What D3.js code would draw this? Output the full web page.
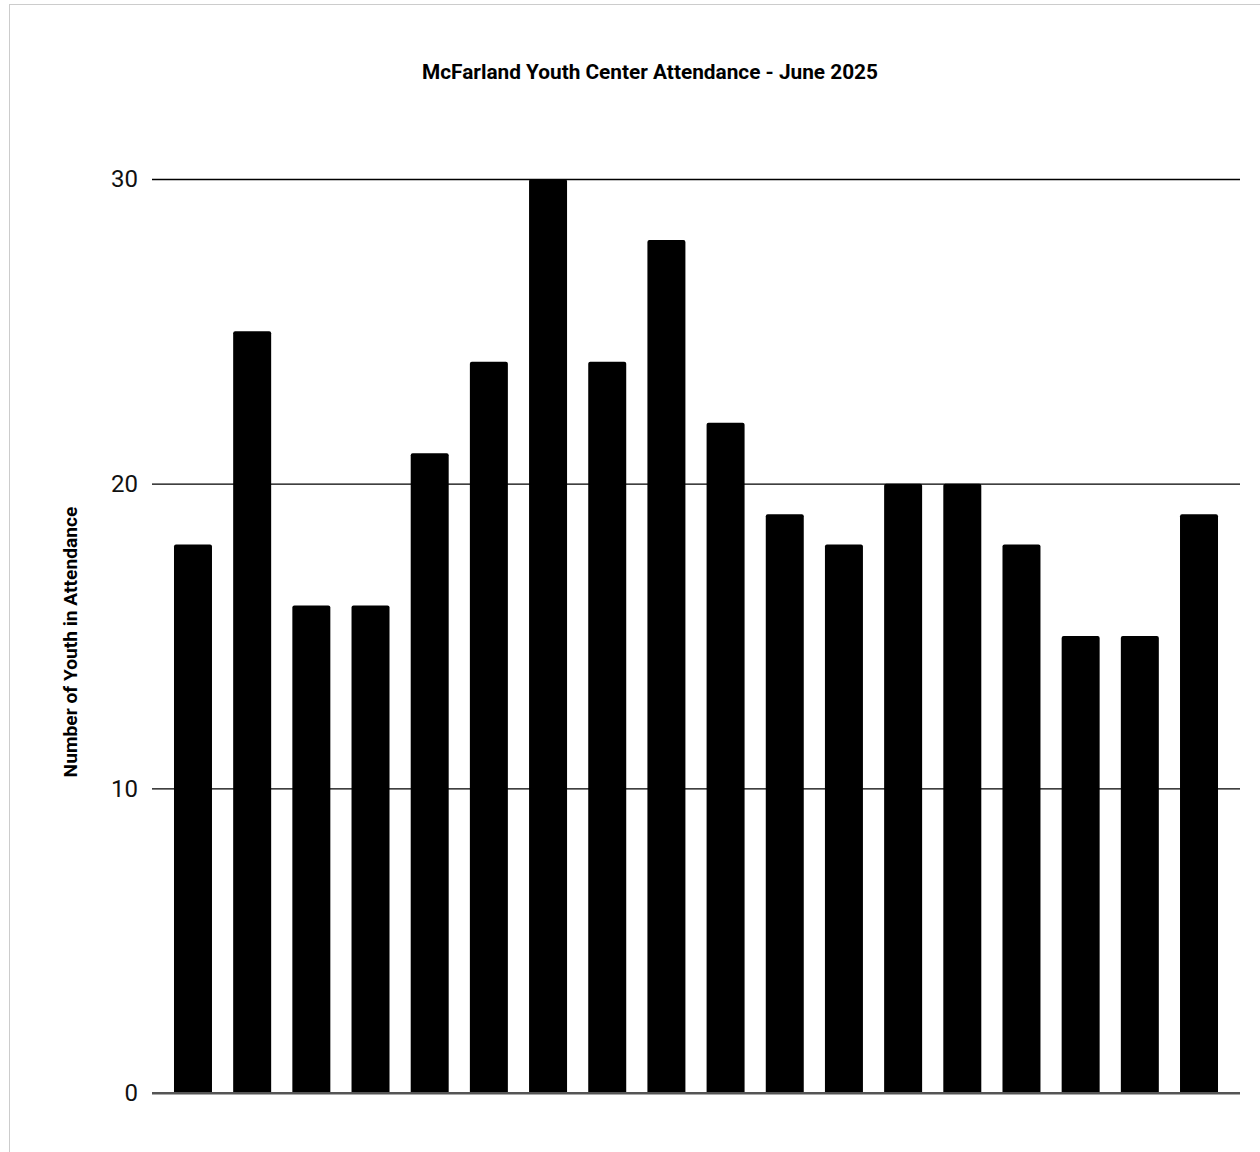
<!DOCTYPE html>
<html>
<head>
<meta charset="utf-8">
<script src="https://cdn.jsdelivr.net/npm/d3@7"></script>
<style>
  html, body { margin: 0; padding: 0; background: #fff; }
  svg { display: block; font-family: Roboto, "Noto Sans", Arial, sans-serif; }
</style>
</head>
<body>
<svg id="chart" width="1260" height="1152"></svg>
<script>
// Daily program sessions in June 2025 (one bar per open day)
const sessions = ["Jun 2", "Jun 3", "Jun 4", "Jun 5", "Jun 6", "Jun 9", "Jun 10", "Jun 11", "Jun 12",
                  "Jun 13", "Jun 16", "Jun 17", "Jun 18", "Jun 20", "Jun 23", "Jun 24", "Jun 25", "Jun 26"];
const attendance = [18, 25, 16, 16, 21, 24, 30, 24, 28, 22, 19, 18, 20, 20, 18, 15, 15, 19];
const yTicks = [0, 10, 20, 30];

const titleText = "McFarland Youth Center Attendance - June 2025";
const yAxisTitle = "Number of Youth in Attendance";

const svg = d3.select("#chart");

// outer frame
svg.append("rect")
  .attr("x", 9.5).attr("y", 4.5)
  .attr("width", 1260).attr("height", 1160)
  .attr("fill", "none").attr("stroke", "#cccccc").attr("stroke-width", 1);

const plot = { left: 152, right: 1240, top: 179, bottom: 1093 };

const x = d3.scaleBand()
  .domain(sessions)
  .range([163.4, 1228.6])
  .paddingInner(0.358)
  .paddingOuter(0.179);

const y = d3.scaleLinear()
  .domain([0, 30])
  .range([plot.bottom, plot.top]);

// title
svg.append("text")
  .attr("x", 650).attr("y", 79)
  .attr("text-anchor", "middle")
  .attr("font-size", 20.8).attr("font-weight", "bold").attr("fill", "#000")
  .text(titleText);

// y axis title
svg.append("text")
  .attr("transform", `translate(77,${642}) rotate(-90)`)
  .attr("text-anchor", "middle")
  .attr("font-size", 19.2).attr("font-weight", "bold").attr("fill", "#000")
  .text(yAxisTitle);

// gridlines + tick labels via d3 axis
const yAxis = d3.axisLeft(y)
  .tickValues(yTicks)
  .tickSize(-(plot.right - plot.left))
  .tickPadding(14)
  .tickFormat(d3.format("d"));

const gAxis = svg.append("g")
  .attr("transform", `translate(${plot.left},0)`)
  .call(yAxis);

gAxis.select(".domain").remove();
gAxis.selectAll(".tick line")
  .attr("stroke", d => d === 0 ? "#555" : "#000")
  .attr("stroke-width", d => d === 0 ? 2 : 1.3);
gAxis.selectAll(".tick text")
  .attr("font-size", 24)
  .attr("fill", "#111")
  .attr("font-family", "Roboto, 'Noto Sans', Arial, sans-serif");

// bars with slightly rounded top corners
const r = 2;
svg.append("g")
  .selectAll("path")
  .data(attendance)
  .join("path")
  .attr("fill", "#000")
  .attr("d", (d, i) => {
    const x0 = x(sessions[i]);
    const w = x.bandwidth();
    const yTop = y(d);
    const yBot = y(0);
    return `M${x0},${yBot} L${x0},${yTop + r} Q${x0},${yTop} ${x0 + r},${yTop}
            L${x0 + w - r},${yTop} Q${x0 + w},${yTop} ${x0 + w},${yTop + r}
            L${x0 + w},${yBot} Z`;
  });

// baseline drawn over bars
svg.append("line")
  .attr("x1", plot.left).attr("x2", plot.right)
  .attr("y1", y(0)).attr("y2", y(0))
  .attr("stroke", "#555").attr("stroke-width", 2);
</script>
</body>
</html>
